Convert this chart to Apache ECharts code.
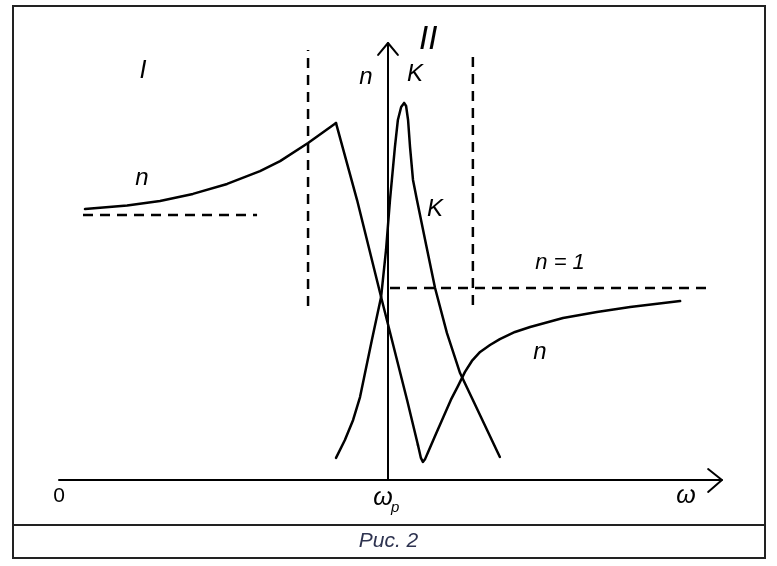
<!DOCTYPE html>
<html><head><meta charset="utf-8">
<script src="https://cdn.jsdelivr.net/npm/echarts@6/dist/echarts.min.js"></script>
<style>html,body{margin:0;padding:0;background:#fff}#c{width:777px;height:566px}</style>
</head><body><div id="c"></div>
<script>
// refractive index n(ω): normal-dispersion branch, anomalous drop, branch above ω_p
const nLowBranch = [[0.079,1.411],[0.207,1.430],[0.307,1.453],[0.407,1.490],[0.511,1.542],[0.611,1.609],[0.672,1.661],[0.757,1.755],[0.842,1.859]];
const nFallBranch = [[0.842,1.859],[0.906,1.458],[0.979,0.953],[1.058,0.417],[1.091,0.182]];
const nHighBranch = [[1.091,0.182],[1.100,0.115],[1.106,0.094],[1.113,0.110],[1.122,0.146],[1.143,0.229],[1.167,0.323],[1.191,0.417],[1.213,0.490],[1.234,0.563],[1.255,0.620],[1.280,0.667],[1.310,0.703],[1.340,0.734],[1.386,0.771],[1.432,0.797],[1.532,0.844],[1.635,0.875],[1.736,0.901],[1.888,0.932]];
// absorption K(ω)
const kCurve = [[0.842,0.115],[0.869,0.208],[0.894,0.313],[0.915,0.432],[0.927,0.531],[0.951,0.729],[0.979,0.953],[0.994,1.198],[1.006,1.458],[1.021,1.734],[1.030,1.875],[1.040,1.943],[1.049,1.964],[1.055,1.948],[1.061,1.875],[1.067,1.734],[1.076,1.563],[1.088,1.458],[1.116,1.224],[1.143,1.000],[1.179,0.766],[1.219,0.557],[1.258,0.417],[1.340,0.120]];
// dashed guides
const nZeroFreq = [[0.073,1.380],[0.602,1.380]];
const boundLeft = [[0.757,0.906],[0.757,2.240]];
const boundRight = [[1.258,0.911],[1.258,2.224]];
const nOne = [[1.006,1.0],[1.970,1.0]];
// axes
const omegaAxis = [[0,0],[2.015,0]];
const omegaArrow = [[1.973,0.057],[2.015,0],[1.973,-0.062]];
const nAxis = [[1,0],[1,2.276]];
const nArrow = [[0.970,2.214],[1,2.276],[1.030,2.214]];
// text annotations: [x, y, text, fontSize, italic]
const annotations = [
  [0.255,2.130,'I',25,true],
  [1.122,2.292,'II',33,true],
  [0.933,2.099,'n',24,true],
  [1.082,2.115,'K',24,true],
  [1.143,1.411,'K',24,true],
  [0.252,1.573,'n',24,true],
  [1.523,1.130,'n = 1',22,true],
  [1.462,0.667,'n',24,true],
  [0.0,-0.083,'0',21,false],
  [0.985,-0.094,'ω',25,true],
  [1.022,-0.143,'p',15,true],
  [1.906,-0.083,'ω',25,true]
];
const caption = 'Рис. 2';

const FONT = '"Liberation Sans", Arial, sans-serif';
const INK = '#000';
function solid(data, w){
  return {type:'line', data, smooth:false, symbol:'none', silent:true,
    lineStyle:{color:INK, width:w, join:'round', cap:'round'}};
}
function dashed(data){
  return {type:'line', data, symbol:'none', silent:true,
    lineStyle:{color:INK, width:2.5, type:[10,7]}};
}
const chart = echarts.init(document.getElementById('c'), null, {renderer:'canvas'});
chart.setOption({
  animation:false,
  backgroundColor:'#fff',
  grid:{left:26.1, top:0, width:723.8, height:528},
  xAxis:{type:'value', min:-0.1, max:2.1, show:false},
  yAxis:{type:'value', min:-0.25, max:2.5, show:false},
  series:[
    solid(omegaAxis,2), solid(omegaArrow,2), solid(nAxis,2), solid(nArrow,2),
    dashed(nZeroFreq), dashed(boundLeft), dashed(boundRight), dashed(nOne),
    solid(nLowBranch,2.5), solid(nFallBranch,2.5), solid(nHighBranch,2.5),
    solid(kCurve,2.5),
    {type:'scatter', symbolSize:0, silent:true, itemStyle:{opacity:1, color:'transparent'},
     data: annotations.map(a=>({value:[a[0],a[1]], label:{show:true, position:'inside',
        formatter:a[2], fontSize:a[3], fontStyle:a[4]?'italic':'normal',
        fontFamily:FONT, color:INK, opacity:1, textBorderWidth:0}}))}
  ],
  graphic:[
    {type:'rect', shape:{x:13,y:6,width:752,height:552}, style:{fill:'none', stroke:'#222', lineWidth:2}, silent:true},
    {type:'line', shape:{x1:13,y1:525,x2:765,y2:525}, style:{stroke:'#222', lineWidth:2}, silent:true},
    {type:'text', left:'center', top:531, style:{text:caption, font:'italic 21px '+FONT, fill:'#2e3350'}, silent:true}
  ]
});
</script></body></html>
